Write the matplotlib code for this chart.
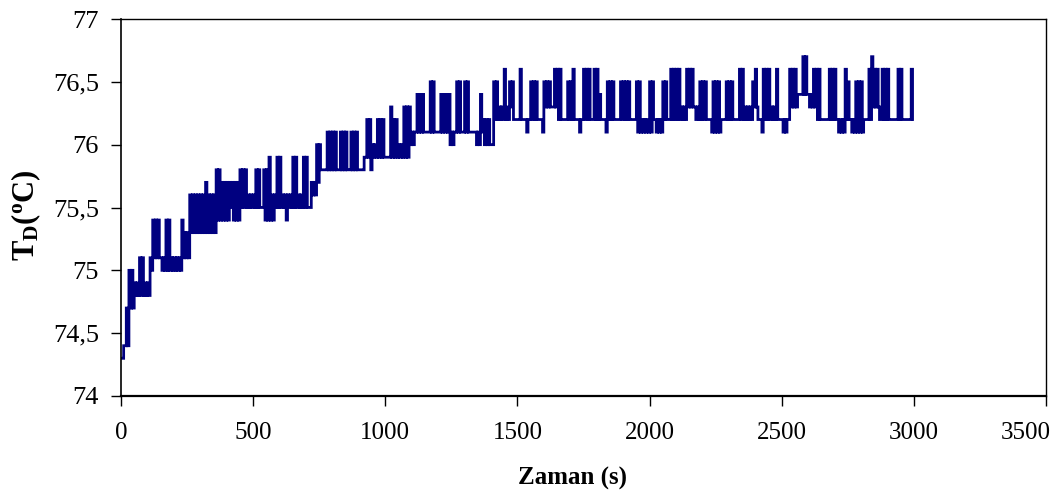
import numpy as np
import matplotlib
matplotlib.use("Agg")
import matplotlib.pyplot as plt
from matplotlib.ticker import FixedLocator, FuncFormatter
from matplotlib.transforms import ScaledTranslation

# Width of one reading bin (s); each bin holds the lowest and highest reading
dt = 10

# Lowest / highest reading in each 10 s bin, in tenths of a degree (743 -> 74.3 °C)
lo_0000 = [743, 744, 744, 747, 747, 748, 748, 748, 748, 748,
           748, 750, 751, 751, 751, 750, 750, 750, 750, 750,
           750, 750, 750, 751, 751, 751, 753, 753, 753, 753,
           753, 753, 753, 753, 753, 753, 754, 754, 754, 754,
           754, 755, 754, 754, 754, 755, 755, 755, 755, 755]
hi_0000 = [743, 744, 747, 750, 750, 749, 749, 751, 751, 749,
           749, 751, 754, 754, 754, 751, 751, 754, 754, 751,
           751, 751, 751, 754, 753, 753, 756, 756, 756, 756,
           756, 756, 757, 756, 756, 756, 758, 758, 757, 757,
           757, 757, 757, 757, 757, 758, 758, 758, 756, 756]
lo_0500 = [755, 755, 755, 755, 754, 754, 754, 754, 755, 755,
           755, 755, 754, 755, 755, 755, 755, 755, 755, 755,
           755, 755, 756, 756, 757, 758, 758, 758, 758, 758,
           758, 758, 758, 758, 758, 758, 758, 758, 758, 758,
           758, 758, 759, 759, 758, 759, 759, 759, 759, 759]
hi_0500 = [756, 758, 758, 755, 758, 758, 759, 756, 756, 759,
           759, 756, 756, 756, 756, 759, 759, 756, 756, 759,
           759, 755, 757, 757, 760, 760, 758, 758, 761, 761,
           761, 761, 758, 761, 761, 761, 758, 761, 761, 761,
           758, 758, 759, 762, 762, 760, 760, 762, 762, 762]
lo_1000 = [759, 759, 759, 759, 759, 759, 759, 759, 759, 760,
           760, 761, 761, 761, 761, 761, 761, 761, 761, 761,
           761, 761, 761, 761, 760, 760, 761, 761, 761, 761,
           761, 761, 761, 761, 760, 760, 761, 760, 760, 760,
           760, 762, 762, 762, 762, 762, 762, 763, 762, 762]
hi_1000 = [759, 759, 763, 762, 762, 760, 760, 763, 763, 763,
           761, 761, 764, 764, 764, 761, 761, 765, 765, 761,
           761, 764, 764, 764, 764, 761, 761, 765, 765, 761,
           765, 765, 761, 761, 761, 761, 764, 762, 762, 762,
           760, 765, 765, 763, 763, 766, 763, 765, 765, 762]
lo_1500 = [762, 762, 762, 761, 762, 762, 762, 762, 762, 761,
           763, 763, 763, 763, 763, 762, 762, 762, 762, 762,
           762, 762, 762, 761, 762, 762, 762, 762, 762, 762,
           762, 762, 762, 761, 762, 762, 762, 762, 762, 762,
           762, 762, 762, 762, 762, 761, 761, 761, 761, 761]
hi_1500 = [762, 766, 762, 762, 762, 765, 765, 765, 762, 762,
           765, 765, 765, 763, 766, 766, 766, 762, 762, 765,
           765, 766, 762, 762, 762, 766, 766, 766, 762, 766,
           766, 764, 762, 762, 765, 765, 765, 762, 762, 765,
           765, 765, 765, 762, 762, 765, 765, 762, 762, 762]
lo_2000 = [761, 762, 761, 761, 761, 762, 762, 762, 762, 762,
           762, 762, 762, 762, 763, 763, 763, 762, 762, 762,
           762, 762, 762, 761, 761, 761, 761, 762, 762, 762,
           762, 762, 762, 762, 762, 762, 762, 762, 762, 763,
           763, 762, 761, 762, 762, 762, 762, 762, 762, 762]
hi_2000 = [765, 765, 762, 762, 762, 765, 765, 762, 766, 766,
           766, 766, 763, 763, 766, 766, 766, 763, 763, 765,
           765, 765, 762, 762, 765, 765, 765, 762, 762, 765,
           765, 765, 762, 762, 766, 766, 763, 763, 763, 765,
           766, 762, 762, 766, 766, 766, 763, 763, 766, 762]
lo_2500 = [761, 761, 762, 763, 763, 763, 764, 764, 764, 764,
           763, 763, 763, 762, 762, 762, 762, 762, 762, 762,
           762, 761, 761, 761, 762, 762, 761, 761, 761, 761,
           761, 762, 762, 762, 763, 763, 763, 762, 762, 762,
           762, 762, 762, 762, 762, 762, 762, 762, 762, 762]
hi_2500 = [762, 762, 762, 766, 766, 766, 764, 764, 767, 767,
           764, 764, 766, 766, 766, 762, 762, 762, 766, 766,
           766, 762, 762, 762, 766, 765, 762, 762, 765, 765,
           765, 762, 762, 766, 767, 766, 766, 762, 766, 766,
           766, 762, 762, 762, 766, 766, 762, 762, 762, 766]

x_ticks = [0, 500, 1000, 1500, 2000, 2500, 3000, 3500]
y_ticks = [74.0, 74.5, 75.0, 75.5, 76.0, 76.5, 77.0]
x_label = "Zaman (s)"
y_label = r"$\mathbf{T_D(^oC)}$"

lo = np.array(lo_0000 + lo_0500 + lo_1000 + lo_1500 + lo_2000 + lo_2500) / 10.0
hi = np.array(hi_0000 + hi_0500 + hi_1000 + hi_1500 + hi_2000 + hi_2500) / 10.0
t_bin = np.arange(len(lo)) * dt

# Trace goes to the bin's highest then lowest reading within every bin
time = np.column_stack([t_bin, t_bin + dt / 2]).ravel()
temp = np.column_stack([hi, lo]).ravel()

plt.rcParams['path.simplify'] = False
plt.rcParams['font.family'] = ['Liberation Serif', 'DejaVu Serif']
plt.rcParams['mathtext.fontset'] = 'custom'
plt.rcParams['mathtext.rm'] = 'Liberation Serif'
plt.rcParams['mathtext.bf'] = 'Liberation Serif:bold'
plt.rcParams['mathtext.it'] = 'Liberation Serif:italic'

W, H = 1059, 497
fig = plt.figure(figsize=(W / 100, H / 100), dpi=100)
ax = fig.add_axes([121 / W, 1 - 396 / H, (1046 - 121) / W, (396 - 19) / H])

line, = ax.plot(time, temp, color='#000080', lw=2.0, drawstyle='steps-post',
                solid_joinstyle='miter')
line.set_snap(False)

ax.set_xlim(0, 3500)
ax.set_ylim(74, 77)
ax.xaxis.set_major_locator(FixedLocator(x_ticks))
ax.yaxis.set_major_locator(FixedLocator(y_ticks))
ax.xaxis.set_major_formatter(FuncFormatter(lambda v, p: f"{int(v)}"))
ax.yaxis.set_major_formatter(
    FuncFormatter(lambda v, p: (f"{v:g}").replace('.', ',')))

ax.tick_params(axis='both', direction='out', length=7, width=1.0,
               colors='black')
ax.tick_params(axis='x', pad=12, labelsize=18)
ax.tick_params(axis='y', pad=9, labelsize=19)
for side in ['left', 'bottom', 'top', 'right']:
    ax.spines[side].set_color('black')
    ax.spines[side].set_linewidth(1.0)
ax.spines['bottom'].set_linewidth(1.6)
ax.spines['left'].set_linewidth(1.2)

fig.canvas.draw()
last = ax.get_xticklabels()[-1]
last.set_transform(last.get_transform() +
                   ScaledTranslation(-20 / 100, 0, fig.dpi_scale_trans))

fig.text(572 / W, 1 - 478 / H, x_label, ha='center', va='center',
         fontsize=18, fontweight='bold')
fig.text(26 / W, 1 - 215 / H, y_label, ha='center', va='center',
         fontsize=22, rotation=90)

fig.savefig('out.png', dpi=100)
